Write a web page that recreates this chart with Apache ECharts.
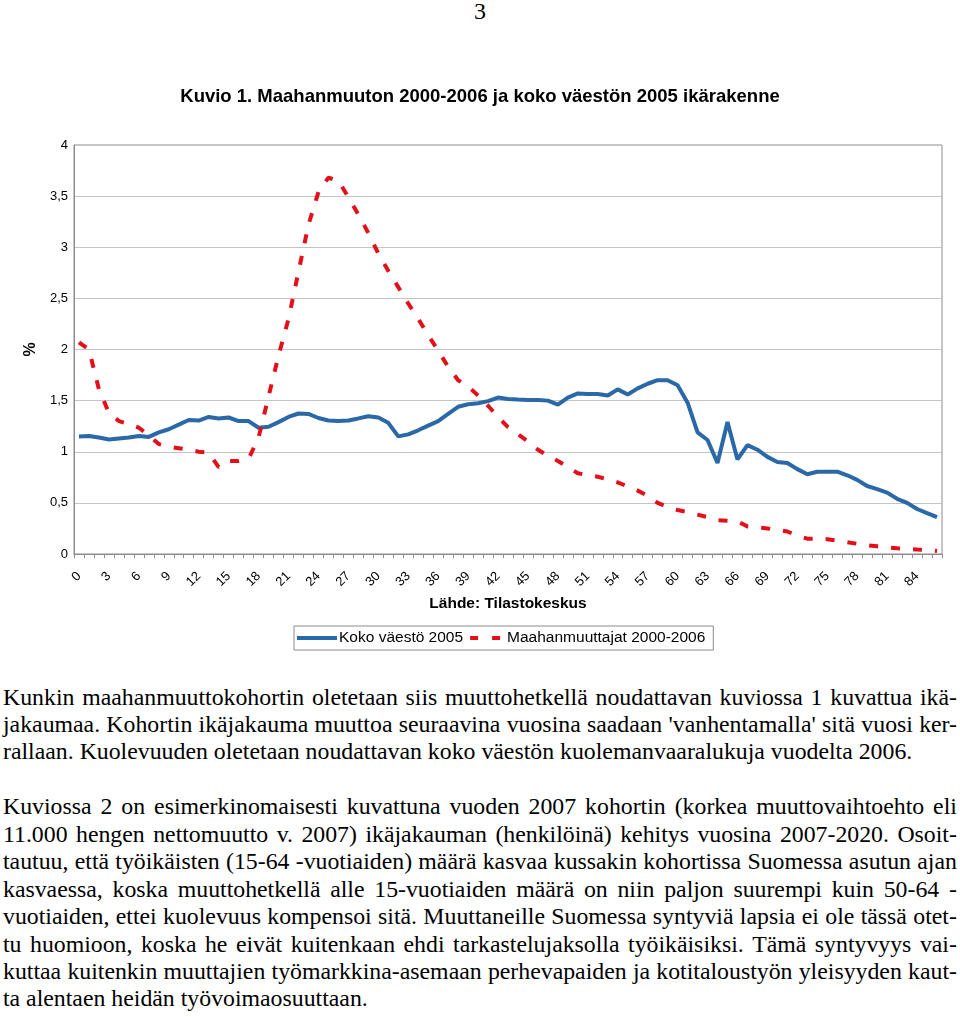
<!DOCTYPE html>
<html>
<head>
<meta charset="utf-8">
<script src="https://cdn.jsdelivr.net/npm/echarts@6/dist/echarts.min.js"></script>
<style>
  html, body { margin:0; padding:0; background:#fff; }
  body { width:960px; height:1017px; position:relative; overflow:hidden; }
  #chart { position:absolute; left:0; top:0; width:960px; height:680px; }
  .pg { position:absolute; left:0; width:960px; top:-1px; text-align:center;
        font-family:'Liberation Serif','Times New Roman',serif; font-size:24px; line-height:24px; color:#000; }
  .ln { position:absolute; left:3px; width:954px; white-space:nowrap;
        font-family:'Liberation Serif','Times New Roman',serif; font-size:23.8px; line-height:27.45px; color:#000; }
</style>
</head>
<body>
<div class="pg">3</div>
<div id="chart"></div>
<script>
const ages = ['0','1','2','3','4','5','6','7','8','9','10','11','12','13','14','15','16','17','18','19',
  '20','21','22','23','24','25','26','27','28','29','30','31','32','33','34','35','36','37','38','39',
  '40','41','42','43','44','45','46','47','48','49','50','51','52','53','54','55','56','57','58','59',
  '60','61','62','63','64','65','66','67','68','69','70','71','72','73','74','75','76','77','78','79',
  '80','81','82','83','84','85','86'];

const kokoVaesto2005 = [1.15,1.155,1.14,1.12,1.13,1.14,1.155,1.145,1.19,1.22,
  1.265,1.31,1.305,1.34,1.325,1.335,1.30,1.30,1.235,1.245,
  1.29,1.34,1.374,1.37,1.33,1.306,1.30,1.306,1.326,1.347,
  1.335,1.283,1.15,1.17,1.21,1.255,1.30,1.37,1.44,1.465,
  1.475,1.495,1.53,1.515,1.51,1.507,1.505,1.50,1.46,1.53,
  1.57,1.565,1.565,1.55,1.61,1.56,1.62,1.665,1.70,1.70,
  1.65,1.48,1.19,1.115,0.89,1.29,0.925,1.065,1.02,0.95,
  0.90,0.89,0.83,0.78,0.805,0.805,0.805,0.77,0.725,0.665,
  0.635,0.60,0.54,0.50,0.44,0.40,0.36];

const maahanmuuttajat = [2.07,2.00,1.61,1.38,1.30,1.27,1.235,1.16,1.075,1.05,
  1.035,1.02,1.00,0.99,0.85,0.91,0.91,0.93,1.14,1.54,
  1.94,2.30,2.76,3.22,3.54,3.68,3.65,3.49,3.32,3.14,
  2.94,2.77,2.61,2.45,2.30,2.14,1.99,1.83,1.70,1.64,
  1.55,1.45,1.34,1.24,1.17,1.10,1.02,0.96,0.91,0.85,
  0.79,0.77,0.756,0.73,0.70,0.66,0.62,0.57,0.50,0.46,
  0.43,0.41,0.385,0.36,0.33,0.325,0.32,0.27,0.26,0.25,
  0.235,0.22,0.18,0.15,0.15,0.145,0.13,0.115,0.10,0.085,
  0.075,0.065,0.056,0.05,0.043,0.04,0.03];

const seriesNames = ['Koko väestö 2005', 'Maahanmuuttajat 2000-2006'];
const chartTitle = 'Kuvio 1. Maahanmuuton 2000-2006 ja koko väestön 2005 ikärakenne';
const sourceText = 'Lähde: Tilastokeskus';

const para1 = [
  "Kunkin maahanmuuttokohortin oletetaan siis muuttohetkellä noudattavan kuviossa 1 kuvattua ikä-",
  "jakaumaa. Kohortin ikäjakauma muuttoa seuraavina vuosina saadaan 'vanhentamalla' sitä vuosi ker-",
  "rallaan. Kuolevuuden oletetaan noudattavan koko väestön kuolemanvaaralukuja vuodelta 2006."
];
const para2 = [
  "Kuviossa 2 on esimerkinomaisesti kuvattuna vuoden 2007 kohortin (korkea muuttovaihtoehto eli",
  "11.000 hengen nettomuutto v. 2007) ikäjakauman (henkilöinä) kehitys vuosina 2007-2020. Osoit-",
  "tautuu, että työikäisten (15-64 -vuotiaiden) määrä kasvaa kussakin kohortissa Suomessa asutun ajan",
  "kasvaessa, koska muuttohetkellä alle 15-vuotiaiden määrä on niin paljon suurempi kuin 50-64 -",
  "vuotiaiden, ettei kuolevuus kompensoi sitä. Muuttaneille Suomessa syntyviä lapsia ei ole tässä otet-",
  "tu huomioon, koska he eivät kuitenkaan ehdi tarkastelujaksolla työikäisiksi. Tämä syntyvyys vai-",
  "kuttaa kuitenkin muuttajien työmarkkina-asemaan perhevapaiden ja kotitaloustyön yleisyyden kaut-",
  "ta alentaen heidän työvoimaosuuttaan."
];

const LH = 27.45, TOP = 683.5;
function addLines(lines, startIdx) {
  lines.forEach((t, k) => {
    const d = document.createElement('div');
    d.className = 'ln';
    d.style.top = (TOP + (startIdx + k) * LH) + 'px';
    if (k === lines.length - 1) {
      d.textContent = t;
    } else {
      d.style.display = 'flex';
      d.style.justifyContent = 'space-between';
      t.split(' ').forEach(w => {
        const s = document.createElement('span');
        s.textContent = w;
        d.appendChild(s);
      });
    }
    document.body.appendChild(d);
  });
}
addLines(para1, 0);
addLines(para2, 4);

const FONT = "'Liberation Sans', Arial, Helvetica, sans-serif";
const BLUE = '#2a68a8', RED = '#e3101a';
const chart = echarts.init(document.getElementById('chart'), null, { renderer: 'canvas' });
chart.setOption({
  animation: false,
  textStyle: { fontFamily: FONT },
  title: {
    text: chartTitle, left: 'center', top: 87, padding: 0,
    textStyle: { fontFamily: FONT, fontSize: 18.5, fontWeight: 'bold', color: '#000' }
  },
  grid: { left: 74, right: 18, top: 145, height: 409, show: true, borderColor: '#8c8c8c', borderWidth: 1 },
  legend: {
    left: 294, top: 626, padding: [4, 8, 4, 3],
    itemWidth: 40, itemHeight: 4, itemGap: 7,
    borderColor: '#8c8c8c', borderWidth: 1,
    textStyle: { fontFamily: FONT, fontSize: 15.5, color: '#000', padding: [0, 0, 0, -3] },
    data: [
      { name: seriesNames[0], icon: 'rect', itemStyle: { color: BLUE } },
      { name: seriesNames[1], icon: 'path://M0,0h8v4h-8z M22,0h8v4h-8z', itemStyle: { color: RED } }
    ]
  },
  xAxis: {
    type: 'category', data: ages, boundaryGap: true,
    axisLine: { lineStyle: { color: '#8c8c8c', width: 1 } },
    axisTick: { show: true, interval: 0, length: 4, lineStyle: { color: '#8c8c8c' } },
    axisLabel: { interval: 2, rotate: 45, fontSize: 13, color: '#000', margin: 20, fontFamily: FONT },
    splitLine: { show: false },
    name: sourceText, nameLocation: 'middle', nameGap: 42,
    nameTextStyle: { fontFamily: FONT, fontWeight: 'bold', fontSize: 15.5, color: '#000' }
  },
  yAxis: {
    type: 'value', min: 0, max: 4, interval: 0.5,
    axisLine: { show: true, lineStyle: { color: '#8c8c8c', width: 1 } },
    axisTick: { show: false },
    splitLine: { lineStyle: { color: '#c4c4c4', width: 1 } },
    axisLabel: { formatter: v => String(v).replace('.', ','), fontSize: 13, margin: 6, color: '#000', fontFamily: FONT },
    name: '%', nameLocation: 'middle', nameRotate: 90, nameGap: 33,
    nameTextStyle: { fontFamily: FONT, fontWeight: 'bold', fontSize: 16, color: '#000' }
  },
  series: [
    {
      name: seriesNames[0], type: 'line', data: kokoVaesto2005,
      symbol: 'none', smooth: false,
      lineStyle: { color: BLUE, width: 4 }, itemStyle: { color: BLUE }
    },
    {
      name: seriesNames[1], type: 'line', data: maahanmuuttajat,
      symbol: 'none', smooth: false,
      lineStyle: { color: RED, width: 4, type: [9, 13] }, itemStyle: { color: RED }
    }
  ]
});
</script>
</body>
</html>
